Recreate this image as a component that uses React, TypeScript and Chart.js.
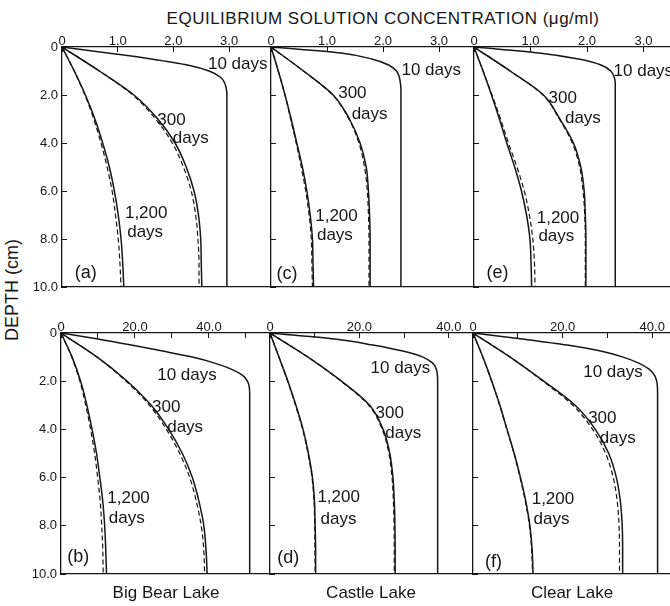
import React, { useEffect, useRef } from 'react';
import { Chart, registerables } from 'chart.js';

Chart.register(...registerables);

// ---------- data (depth in cm, concentration in µg/ml) ----------
const DEPTH_FINE = [0, 0.25, 0.5, 0.75, 1, 1.25, 1.5, 1.75, 2, 2.5, 3, 10];
const DEPTH_COARSE = [0, 1, 2, 3, 4, 5, 6, 7, 8, 9, 10];
const Y_TICKS = [0, 2, 4, 6, 8, 10];

// (a) Big Bear Lake, upper
const A_10 = [0, 0.82, 1.6, 2.25, 2.64, 2.84, 2.92, 2.95, 2.96, 2.96, 2.96, 2.96];
const A_300 = [0, 0.67, 1.29, 1.72, 2.03, 2.23, 2.37, 2.45, 2.49, 2.5, 2.51];
const A_300_DASH = [0, 0.67, 1.27, 1.68, 1.98, 2.18, 2.32, 2.4, 2.44, 2.46, 2.46];
const A_1200 = [0, 0.22, 0.42, 0.59, 0.73, 0.85, 0.94, 1.01, 1.06, 1.09, 1.11];
const A_1200_DASH = [0, 0.22, 0.41, 0.57, 0.7, 0.81, 0.9, 0.96, 1.01, 1.04, 1.06];

// (c) Castle Lake, upper
const C_10 = [0, 1.25, 1.8, 2.1, 2.24, 2.29, 2.31, 2.32, 2.32, 2.32, 2.32, 2.32];
const C_300 = [0, 0.58, 1.11, 1.4, 1.59, 1.7, 1.74, 1.76, 1.77, 1.77, 1.77];
const C_300_DASH = [0, 0.58, 1.1, 1.39, 1.57, 1.67, 1.72, 1.74, 1.75, 1.75, 1.75];
const C_1200 = [0, 0.13, 0.25, 0.36, 0.46, 0.56, 0.64, 0.7, 0.74, 0.75, 0.76];
const C_1200_DASH = [0, 0.13, 0.25, 0.35, 0.45, 0.54, 0.62, 0.68, 0.72, 0.73, 0.74];

// (e) Clear Lake, upper
const E_10 = [0, 1.15, 1.85, 2.25, 2.42, 2.48, 2.5, 2.5, 2.5, 2.5, 2.5, 2.5];
const E_300 = [0, 0.64, 1.23, 1.52, 1.76, 1.89, 1.95, 1.97, 1.98, 1.98, 1.98];
const E_300_DASH = [0, 0.64, 1.22, 1.51, 1.74, 1.87, 1.93, 1.96, 1.97, 1.97, 1.97];
const E_1200 = [0, 0.16, 0.31, 0.45, 0.58, 0.72, 0.84, 0.93, 0.99, 1.01, 1.02];
const E_1200_DASH = [0, 0.16, 0.32, 0.47, 0.61, 0.76, 0.89, 0.98, 1.04, 1.07, 1.08];

// (b) Big Bear Lake, lower
const B_10 = [0, 10, 19, 27.5, 35.5, 41.5, 46, 49, 50.4, 51, 51, 51];
const B_300 = [0, 9.8, 17.9, 24.4, 29.1, 32.8, 35.5, 37.3, 38.6, 39.2, 39.5];
const B_300_DASH = [0, 9.7, 17.6, 23.9, 28.5, 32.1, 34.8, 36.6, 37.9, 38.6, 38.8];
const B_1200 = [0, 3.0, 5.3, 7.0, 8.4, 9.6, 10.5, 11.3, 11.8, 12.1, 12.3];
const B_1200_DASH = [0, 2.9, 5.1, 6.7, 8.0, 9.1, 9.9, 10.6, 11.0, 11.3, 11.4];

// (d) Castle Lake, lower
const D_10 = [0, 14.5, 23, 29.7, 34.2, 36.4, 37.2, 37.45, 37.5, 37.5, 37.5, 37.5];
const D_300 = [0, 8.5, 16.0, 22.3, 25.3, 26.8, 27.5, 27.8, 27.95, 28.0, 28.0];
const D_300_DASH = [0, 8.5, 15.9, 22.1, 25.1, 26.6, 27.3, 27.6, 27.75, 27.8, 27.8];
const D_1200 = [0, 2.0, 4.0, 5.8, 7.4, 8.6, 9.5, 9.95, 10.1, 10.2, 10.2];
const D_1200_DASH = [0, 2.0, 3.95, 5.7, 7.3, 8.5, 9.4, 9.85, 10.0, 10.05, 10.1];

// (f) Clear Lake, lower
const F_10 = [0, 11, 21, 28.5, 33.5, 37, 39.3, 40.5, 41.0, 41.2, 41.2, 41.2];
const F_300 = [0, 8.3, 15.8, 22.8, 27.3, 30.3, 32.0, 32.9, 33.3, 33.4, 33.4];
const F_300_DASH = [0, 8.3, 15.6, 22.3, 26.7, 29.6, 31.3, 32.2, 32.6, 32.7, 32.7];
const F_1200 = [0, 2.2, 4.2, 6.0, 7.6, 9.2, 10.6, 11.8, 12.7, 13.2, 13.4];
const F_1200_DASH = [0, 2.2, 4.15, 5.95, 7.55, 9.15, 10.5, 11.7, 12.6, 13.1, 13.3];

// x-axis ranges and tick settings
const X_MAX_TOP = [3.752, 3.607, 3.469];
const X_MAX_BOTTOM = [56.76, 45.41, 43.97];
const X_STEP_TOP = 1;
const X_STEP_BOTTOM = 10;
const X_LABEL_EVERY_TOP = 1;
const X_LABEL_EVERY_BOTTOM = 20;

const TITLE = 'EQUILIBRIUM SOLUTION CONCENTRATION (\u03BCg/ml)';
const Y_TITLE = 'DEPTH (cm)';
const LAKES = ['Big Bear Lake', 'Castle Lake', 'Clear Lake'];

// ---------- styling / layout ----------
const FONT = '"Liberation Sans", Arial, sans-serif';
const INK = '#161616';

type Label = { text: string; x: number; y: number; big?: boolean };
type Series = { depth: number[]; conc: number[]; dashed: boolean };
type PanelSpec = {
  left: number; top: number; width: number; height: number;
  xMax: number; xStep: number; labelEvery: number; showY: boolean;
  series: Series[]; labels: Label[];
};

const s = (depth: number[], conc: number[], dashed = false): Series => ({ depth, conc, dashed });

const PANELS: PanelSpec[] = [
  {
    left: 62, top: 47, width: 209, height: 240, xMax: X_MAX_TOP[0], xStep: X_STEP_TOP, labelEvery: X_LABEL_EVERY_TOP, showY: true,
    series: [s(DEPTH_FINE, A_10), s(DEPTH_COARSE, A_300), s(DEPTH_COARSE, A_300_DASH, true), s(DEPTH_COARSE, A_1200), s(DEPTH_COARSE, A_1200_DASH, true)],
    labels: [
      { text: '10 days', x: 2.62, y: 0.71 }, { text: '300', x: 1.71, y: 3.04 }, { text: 'days', x: 1.99, y: 3.79 },
      { text: '1,200', x: 1.13, y: 6.92 }, { text: 'days', x: 1.17, y: 7.71 }, { text: '(a)', x: 0.23, y: 9.42, big: true },
    ],
  },
  {
    left: 271, top: 47, width: 202, height: 240, xMax: X_MAX_TOP[1], xStep: X_STEP_TOP, labelEvery: X_LABEL_EVERY_TOP, showY: false,
    series: [s(DEPTH_FINE, C_10), s(DEPTH_COARSE, C_300), s(DEPTH_COARSE, C_300_DASH, true), s(DEPTH_COARSE, C_1200), s(DEPTH_COARSE, C_1200_DASH, true)],
    labels: [
      { text: '10 days', x: 2.33, y: 0.99 }, { text: '300', x: 1.2, y: 1.93 }, { text: 'days', x: 1.44, y: 2.79 },
      { text: '1,200', x: 0.79, y: 7.07 }, { text: 'days', x: 0.82, y: 7.83 }, { text: '(c)', x: 0.1, y: 9.46, big: true },
    ],
  },
  {
    left: 474, top: 47, width: 196, height: 240, xMax: X_MAX_TOP[2], xStep: X_STEP_TOP, labelEvery: X_LABEL_EVERY_TOP, showY: false,
    series: [s(DEPTH_FINE, E_10), s(DEPTH_COARSE, E_300), s(DEPTH_COARSE, E_300_DASH, true), s(DEPTH_COARSE, E_1200), s(DEPTH_COARSE, E_1200_DASH, true)],
    labels: [
      { text: '10 days', x: 2.47, y: 1.0 }, { text: '300', x: 1.32, y: 2.12 }, { text: 'days', x: 1.61, y: 2.98 },
      { text: '1,200', x: 1.11, y: 7.12 }, { text: 'days', x: 1.14, y: 7.88 }, { text: '(e)', x: 0.22, y: 9.4, big: true },
    ],
  },
  {
    left: 61, top: 333, width: 210, height: 241, xMax: X_MAX_BOTTOM[0], xStep: X_STEP_BOTTOM, labelEvery: X_LABEL_EVERY_BOTTOM, showY: true,
    series: [s(DEPTH_FINE, B_10), s(DEPTH_COARSE, B_300), s(DEPTH_COARSE, B_300_DASH, true), s(DEPTH_COARSE, B_1200), s(DEPTH_COARSE, B_1200_DASH, true)],
    labels: [
      { text: '10 days', x: 26.0, y: 1.74 }, { text: '300', x: 24.6, y: 3.08 }, { text: 'days', x: 28.7, y: 3.93 },
      { text: '1,200', x: 12.5, y: 6.86 }, { text: 'days', x: 12.9, y: 7.69 }, { text: '(b)', x: 1.7, y: 9.3, big: true },
    ],
  },
  {
    left: 270, top: 333, width: 203, height: 241, xMax: X_MAX_BOTTOM[1], xStep: X_STEP_BOTTOM, labelEvery: X_LABEL_EVERY_BOTTOM, showY: false,
    series: [s(DEPTH_FINE, D_10), s(DEPTH_COARSE, D_300), s(DEPTH_COARSE, D_300_DASH, true), s(DEPTH_COARSE, D_1200), s(DEPTH_COARSE, D_1200_DASH, true)],
    labels: [
      { text: '10 days', x: 22.5, y: 1.46 }, { text: '300', x: 23.6, y: 3.35 }, { text: 'days', x: 25.8, y: 4.17 },
      { text: '1,200', x: 10.6, y: 6.83 }, { text: 'days', x: 11.3, y: 7.73 }, { text: '(d)', x: 1.6, y: 9.34, big: true },
    ],
  },
  {
    left: 473, top: 333, width: 197, height: 241, xMax: X_MAX_BOTTOM[2], xStep: X_STEP_BOTTOM, labelEvery: X_LABEL_EVERY_BOTTOM, showY: false,
    series: [s(DEPTH_FINE, F_10), s(DEPTH_COARSE, F_300), s(DEPTH_COARSE, F_300_DASH, true), s(DEPTH_COARSE, F_1200), s(DEPTH_COARSE, F_1200_DASH, true)],
    labels: [
      { text: '10 days', x: 24.6, y: 1.63 }, { text: '300', x: 25.7, y: 3.52 }, { text: 'days', x: 28.3, y: 4.38 },
      { text: '1,200', x: 13.1, y: 6.9 }, { text: 'days', x: 13.5, y: 7.73 }, { text: '(f)', x: 2.7, y: 9.5, big: true },
    ],
  },
];

function Panel({ spec }: { spec: PanelSpec }) {
  const ref = useRef<HTMLCanvasElement>(null);
  const padL = spec.showY ? spec.left : 10;
  const padT = 24;
  const padB = 20;
  const cw = spec.width + padL;
  const ch = spec.height + padT + padB;

  useEffect(() => {
    if (!ref.current) return;
    const labelPlugin = {
      id: 'curveLabels',
      afterDatasetsDraw(chart: any) {
        const { ctx, scales } = chart;
        ctx.save();
        ctx.fillStyle = INK;
        ctx.textAlign = 'left';
        ctx.textBaseline = 'middle';
        for (const it of spec.labels) {
          ctx.font = it.big ? `18px ${FONT}` : `17px ${FONT}`;
          ctx.fillText(it.text, scales.x.getPixelForValue(it.x), scales.y.getPixelForValue(it.y));
        }
        ctx.restore();
      },
    };
    const tickFont = { family: FONT, size: 13 };
    const chart = new Chart(ref.current, {
      type: 'line',
      data: {
        datasets: spec.series.map((se) => ({
          data: se.depth.map((d, i) => ({ x: se.conc[i], y: d })),
          borderColor: INK,
          borderWidth: se.dashed ? 1.2 : 1.5,
          borderDash: se.dashed ? [5, 3] : [],
          pointRadius: 0,
          fill: false,
          cubicInterpolationMode: 'monotone',
        })),
      },
      options: {
        indexAxis: 'y',
        responsive: false,
        animation: false,
        events: [],
        layout: { padding: 0 },
        plugins: { legend: { display: false }, tooltip: { enabled: false } },
        scales: {
          x: {
            type: 'linear', position: 'top', min: 0, max: spec.xMax,
            ticks: {
              stepSize: spec.xStep, includeBounds: false, autoSkip: false, maxRotation: 0, padding: 3,
              font: tickFont, color: INK,
              callback: (v: any) => {
                const n = Number(v);
                if (n === 0) return '0';
                return Math.abs(n / spec.labelEvery - Math.round(n / spec.labelEvery)) < 1e-6 ? n.toFixed(1) : '';
              },
            },
            grid: { drawOnChartArea: false, drawTicks: true, tickLength: -5, color: INK, lineWidth: 1 },
            border: { display: true, color: INK, width: 1.3 },
            afterFit: (sc: any) => { sc.height = padT; },
          },
          x2: {
            type: 'linear', position: 'bottom', min: 0, max: spec.xMax,
            ticks: { display: false },
            grid: { drawOnChartArea: false, drawTicks: false },
            border: { display: true, color: INK, width: 1.3 },
            afterFit: (sc: any) => { sc.height = padB; },
          },
          y: {
            type: 'linear', position: 'left', reverse: true, min: 0, max: 10,
            afterBuildTicks: (sc: any) => { sc.ticks = Y_TICKS.map((v) => ({ value: v })); },
            ticks: {
              display: spec.showY, autoSkip: false, padding: 9, font: tickFont, color: INK,
              callback: (v: any) => (Number(v) === 0 ? '0' : Number(v).toFixed(1)),
            },
            grid: { drawOnChartArea: false, drawTicks: true, tickLength: -5, color: INK, lineWidth: 1 },
            border: { display: true, color: INK, width: 1.3 },
            afterFit: (sc: any) => { sc.width = padL; },
          },
        },
      } as any,
      plugins: [labelPlugin],
    });
    return () => chart.destroy();
  }, []);

  return (
    <canvas
      ref={ref}
      width={cw}
      height={ch}
      style={{ position: 'absolute', left: spec.left - padL, top: spec.top - padT, width: cw, height: ch }}
    />
  );
}

export default function App() {
  const lakeCenters = [166, 371, 572];
  return (
    <div style={{ position: 'absolute', left: 0, top: 0, width: 670, height: 606, background: '#fff', overflow: 'hidden', fontFamily: FONT, color: INK }}>
      <div style={{ position: 'absolute', left: 383, top: 9, transform: 'translateX(-50%)', fontSize: 17, lineHeight: '20px', whiteSpace: 'nowrap', letterSpacing: 0.5 }}>
        {TITLE}
      </div>
      <div style={{ position: 'absolute', left: 12, top: 290, transform: 'translate(-50%, -50%) rotate(-90deg)', fontSize: 18, lineHeight: '20px', whiteSpace: 'nowrap' }}>
        {Y_TITLE}
      </div>
      {PANELS.map((p, i) => (
        <Panel key={i} spec={p} />
      ))}
      {LAKES.map((name, i) => (
        <div key={name} style={{ position: 'absolute', left: lakeCenters[i], top: 583, transform: 'translateX(-50%)', fontSize: 17, lineHeight: '20px', whiteSpace: 'nowrap' }}>
          {name}
        </div>
      ))}
    </div>
  );
}
